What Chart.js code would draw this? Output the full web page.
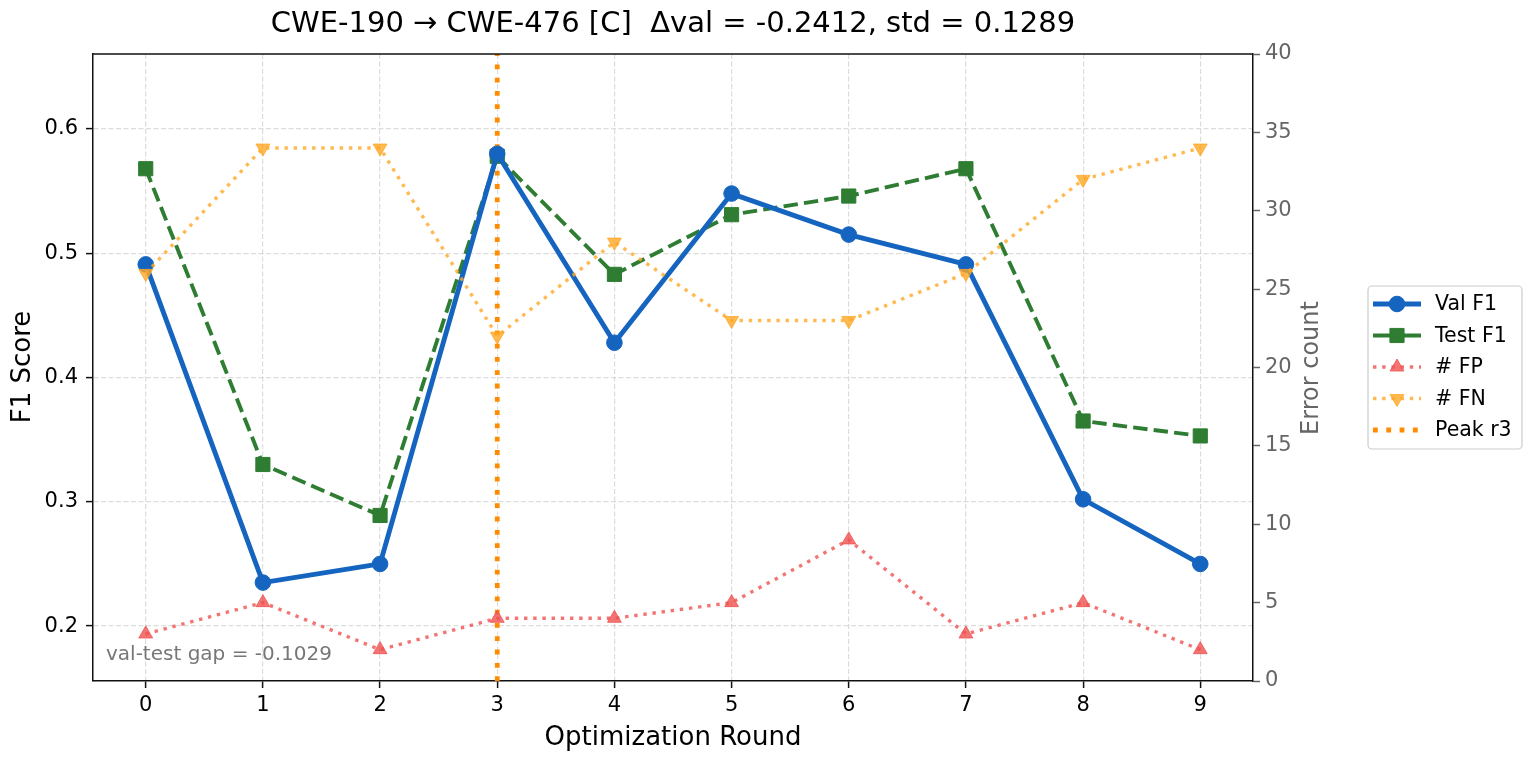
<!DOCTYPE html>
<html lang="en">
<head>
  <meta charset="UTF-8" />
  <title>CWE-190 → CWE-476 rounds</title>
  <script src="https://cdn.jsdelivr.net/npm/chart.js"></script>
  <style>
    html, body { margin: 0; padding: 0; background: #fff; }
    #wrap { width: 1532px; height: 760px; position: relative; }
  </style>
</head>
<body>
  <div id="wrap"><canvas id="roundsChart"></canvas></div>

  <script>
    // values
    const rounds = [0, 1, 2, 3, 4, 5, 6, 7, 8, 9];
    const valF1 = [0.491, 0.235, 0.250, 0.580, 0.428, 0.548, 0.515, 0.491, 0.302, 0.250];
    const testF1 = [0.568, 0.330, 0.289, 0.578, 0.483, 0.531, 0.546, 0.568, 0.365, 0.353];
    const fpCount = [3, 5, 2, 4, 4, 5, 9, 3, 5, 2];
    const fnCount = [26, 34, 34, 22, 28, 23, 23, 26, 32, 34];
    const f1Ticks = [0.2, 0.3, 0.4, 0.5, 0.6];
    const errTicks = [0, 5, 10, 15, 20, 25, 30, 35, 40];
    const peakRound = 3;
    const roundRange = [-0.45, 9.45];
    const f1Range = [0.1558, 0.6603];
    const errRange = [0, 40];

    const titleText = 'CWE-190 → CWE-476 [C]  Δval = -0.2412, std = 0.1289';
    const gapText = 'val-test gap = -0.1029';

    const FONT = "'DejaVu Sans', 'Liberation Sans', sans-serif";
    const GRID = 'rgba(170,170,170,0.4)';

    const pts = (xs, ys) => xs.map((x, i) => ({ x: x, y: ys[i] }));

    // titles, top spine, note and the legend box (legend sits outside the axes like matplotlib)
    const decor = {
      id: 'decor',
      afterDraw(chart) {
        const { ctx, chartArea: a } = chart;
        const cx = (a.left + a.right) / 2;
        ctx.save();

        ctx.strokeStyle = '#111';
        ctx.lineWidth = 1.5;
        ctx.beginPath();
        ctx.moveTo(a.left, a.top);
        ctx.lineTo(a.right, a.top);
        ctx.stroke();

        ctx.fillStyle = '#000';
        ctx.textAlign = 'center';
        ctx.textBaseline = 'alphabetic';
        ctx.font = '29px ' + FONT;
        ctx.fillText(titleText, cx, 32);

        ctx.font = '26px ' + FONT;
        ctx.fillText('Optimization Round', cx, 745);

        ctx.save();
        ctx.translate(30, 367);
        ctx.rotate(-Math.PI / 2);
        ctx.fillText('F1 Score', 0, 0);
        ctx.restore();

        ctx.save();
        ctx.fillStyle = '#666';
        ctx.font = '24px ' + FONT;
        ctx.translate(1318, 368);
        ctx.rotate(-Math.PI / 2);
        ctx.fillText('Error count', 0, 0);
        ctx.restore();

        ctx.fillStyle = '#777';
        ctx.textAlign = 'left';
        ctx.font = '20px ' + FONT;
        ctx.fillText(gapText, a.left + 13, 660);

        // legend
        const bx = 1368, by = 286, bw = 154, bh = 163;
        ctx.fillStyle = 'rgba(255,255,255,0.85)';
        ctx.strokeStyle = '#cccccc';
        ctx.lineWidth = 1.2;
        ctx.beginPath();
        ctx.roundRect(bx, by, bw, bh, 4);
        ctx.fill();
        ctx.stroke();

        ctx.textBaseline = 'middle';
        chart.data.datasets.forEach((ds, i) => {
          const y = 304 + i * 31.5;
          ctx.save();
          ctx.strokeStyle = ds.borderColor;
          ctx.lineWidth = ds.borderWidth;
          ctx.setLineDash(ds.legendDash || []);
          ctx.beginPath();
          ctx.moveTo(1373, y);
          ctx.lineTo(1421, y);
          ctx.stroke();
          if (ds.pointRadius > 0) {
            ctx.setLineDash([]);
            ctx.fillStyle = ds.pointBackgroundColor;
            ctx.strokeStyle = ds.pointBorderColor;
            ctx.lineWidth = 1;
            Chart.helpers.drawPoint(ctx, {
              pointStyle: ds.pointStyle,
              radius: ds.pointRadius,
              rotation: ds.pointRotation || 0,
              borderWidth: 1
            }, 1397, y);
          }
          ctx.restore();
          ctx.fillStyle = '#000';
          ctx.font = '20.5px ' + FONT;
          ctx.fillText(ds.label, 1435, y + 1);
        });

        ctx.restore();
      }
    };

    const VAL_C = '#1565c0';
    const TEST_C = '#2e7d32';
    const FP_C = 'rgba(239,83,80,0.8)';
    const FN_C = 'rgba(255,167,38,0.8)';
    const PEAK_C = '#ff8c00';

    const datasets = [
      {
        label: 'Val F1', data: pts(rounds, valF1), yAxisID: 'y', order: 2,
        borderColor: VAL_C, borderWidth: 4.9, borderDash: [], legendDash: [],
        pointStyle: 'circle', pointRadius: 7.8,
        pointBackgroundColor: VAL_C, pointBorderColor: VAL_C, pointBorderWidth: 1
      },
      {
        label: 'Test F1', data: pts(rounds, testF1), yAxisID: 'y', order: 3,
        borderColor: TEST_C, borderWidth: 3.9, borderDash: [14.4, 6.2], legendDash: [],
        pointStyle: 'rect', pointRadius: 10,
        pointBackgroundColor: TEST_C, pointBorderColor: TEST_C, pointBorderWidth: 1
      },
      {
        label: '# FP', data: pts(rounds, fpCount), yAxisID: 'y2', order: 1,
        borderColor: FP_C, borderWidth: 3.4, borderDash: [3.4, 5.8], legendDash: [3.4, 5.8],
        pointStyle: 'triangle', pointRadius: 8, pointRotation: 0,
        pointBackgroundColor: FP_C, pointBorderColor: FP_C, pointBorderWidth: 1
      },
      {
        label: '# FN', data: pts(rounds, fnCount), yAxisID: 'y2', order: 0,
        borderColor: FN_C, borderWidth: 3.4, borderDash: [3.4, 5.8], legendDash: [3.4, 5.8],
        pointStyle: 'triangle', pointRadius: 8, pointRotation: 180,
        pointBackgroundColor: FN_C, pointBorderColor: FN_C, pointBorderWidth: 1
      },
      {
        label: 'Peak r' + peakRound,
        data: [{ x: peakRound, y: f1Range[0] }, { x: peakRound, y: f1Range[1] }],
        yAxisID: 'y', order: 4,
        borderColor: PEAK_C, borderWidth: 4.8, borderDash: [4.8, 8.5], legendDash: [4.8, 8.5],
        pointRadius: 0
      }
    ];
    datasets.forEach(d => { d.tension = 0; d.fill = false; d.borderCapStyle = 'butt'; });

    new Chart(document.getElementById('roundsChart'), {
      type: 'line',
      data: { datasets: datasets },
      options: {
        responsive: true,
        maintainAspectRatio: false,
        animation: false,
        layout: { padding: { top: 54, right: 202, bottom: 0, left: 0 } },
        plugins: {
          legend: { display: false },
          tooltip: { enabled: false },
          title: { display: false }
        },
        scales: {
          x: {
            type: 'linear',
            min: roundRange[0],
            max: roundRange[1],
            afterBuildTicks: s => { s.ticks = rounds.map(v => ({ value: v })); },
            afterFit: s => { s.height = 79; },
            ticks: { font: { family: FONT, size: 21 }, color: '#000', padding: 5, maxRotation: 0 },
            grid: { color: GRID, lineWidth: 1.2, tickLength: 7, tickWidth: 1.5, tickColor: '#111' },
            border: { color: '#111', width: 1.5, dash: [5, 2.5] }
          },
          y: {
            position: 'left',
            min: f1Range[0],
            max: f1Range[1],
            afterBuildTicks: s => { s.ticks = f1Ticks.map(v => ({ value: v })); },
            afterFit: s => { s.width = 93; },
            ticks: {
              font: { family: FONT, size: 21 }, color: '#000', padding: 8,
              callback: v => v.toFixed(1)
            },
            grid: { color: GRID, lineWidth: 1.2, tickLength: 7, tickWidth: 1.5, tickColor: '#111' },
            border: { color: '#111', width: 1.5, dash: [5, 2.5] }
          },
          y2: {
            position: 'right',
            min: errRange[0],
            max: errRange[1],
            afterBuildTicks: s => { s.ticks = errTicks.map(v => ({ value: v })); },
            afterFit: s => { s.width = 77; },
            ticks: { font: { family: FONT, size: 21 }, color: '#666', padding: 5 },
            grid: { drawOnChartArea: false, tickLength: 7, tickWidth: 1.5, tickColor: '#666' },
            border: { color: '#111', width: 1.5 }
          }
        }
      },
      plugins: [decor]
    });
  </script>
</body>
</html>
